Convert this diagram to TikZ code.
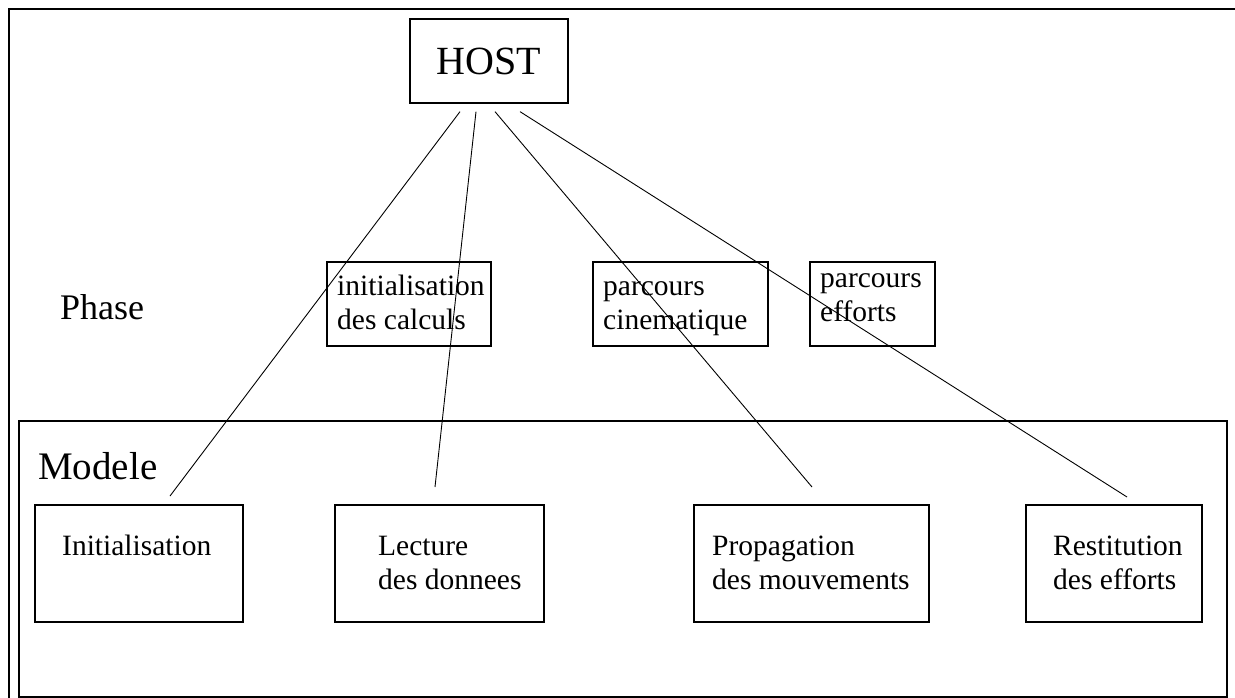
\documentclass[tikz,border=0pt]{standalone}
\usepackage{fontspec}
\setmainfont{Liberation Serif}
\usetikzlibrary{positioning}
\tikzset{
  bloc/.style={draw, line width=1.3pt, inner sep=0pt},
  cadre/.style={draw, line width=1.3pt},
  lien/.style={line width=0.9pt},
  txt/.style={inner sep=0pt, font=\fontsize{29.5}{34.5}\selectfont},
}
\newcommand{\deuxlignes}[2]{\begin{tabular}[t]{@{}l@{}}#1\\#2\end{tabular}}

\begin{document}
\begin{tikzpicture}[x=1pt,y=-1pt]
 \useasboundingbox (0,0) rectangle (1235,698);
 % cadres
 \draw[cadre] (1235,9) -- (9,9) -- (9,698);
 \draw[cadre] (19,421) rectangle (1227,697);
 % host
 \node[bloc, minimum width=158pt, minimum height=84pt, font=\fontsize{40}{46}\selectfont] (HOST) at (489,61) {HOST};
 % phases
 \node[inner sep=0pt, anchor=base west, font=\fontsize{36}{42}\selectfont] (phase) at (60,319) {Phase};
 \node[bloc, minimum width=164pt, minimum height=84pt] (calc) at (409,304) {};
 \node[bloc, minimum width=175pt, minimum height=84pt] (cine) at (680.5,304) {};
 \node[bloc, minimum width=125pt, minimum height=84pt] (effo) at (872.5,304) {};
 \node[txt, anchor=base west] (tcalc) at (337,295) {\deuxlignes{initialisation}{des calculs}};
 \node[txt, anchor=base west] (tcine) at (603,295) {\deuxlignes{parcours}{cinematique}};
 \node[txt, anchor=base west] (teffo) at (820,287) {\deuxlignes{parcours}{efforts}};
 % modele
 \node[inner sep=0pt, anchor=base west, font=\fontsize{39}{45}\selectfont] (modele) at (38,479) {Modele};
 \node[bloc, minimum width=208pt, minimum height=117pt] (init) at (139,563.5) {};
 \node[bloc, minimum width=209pt, minimum height=117pt] (lect) at (439.5,563.5) {};
 \node[bloc, minimum width=235pt, minimum height=117pt] (prop) at (811.5,563.5) {};
 \node[bloc, minimum width=176pt, minimum height=117pt] (rest) at (1114,563.5) {};
 \node[txt, anchor=base west] (tinit) at (62,555) {Initialisation};
 \node[txt, anchor=base west] (tlect) at (378,555) {\deuxlignes{Lecture}{des donnees}};
 \node[txt, anchor=base west] (tprop) at (712,555) {\deuxlignes{Propagation}{des mouvements}};
 \node[txt, anchor=base west] (trest) at (1053,555) {\deuxlignes{Restitution}{des efforts}};
 % liens
 \coordinate (s1) at ([xshift=-29pt,yshift=-8pt]HOST.south);
 \coordinate (s2) at ([xshift=-13pt,yshift=-8pt]HOST.south);
 \coordinate (s3) at ([xshift=6pt,yshift=-8pt]HOST.south);
 \coordinate (s4) at ([xshift=31pt,yshift=-8pt]HOST.south);
 \coordinate (e1) at (170,496);
 \coordinate (e2) at (435,487);
 \coordinate (e3) at (812,487);
 \coordinate (e4) at (1127,497);
 \draw[lien] (s1) -- (e1);
 \draw[lien] (s2) -- (e2);
 \draw[lien] (s3) -- (e3);
 \draw[lien] (s4) -- (e4);
\end{tikzpicture}
\end{document}
